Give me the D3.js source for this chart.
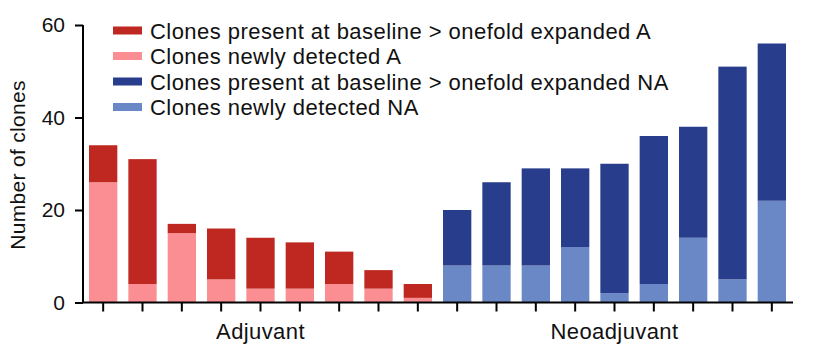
<!DOCTYPE html>
<html>
<head>
<meta charset="utf-8">
<script src="https://d3js.org/d3.v7.min.js"></script>
<style>
  body { margin: 0; background: #fff; }
  text { font-family: "Liberation Sans", Arial, Helvetica, sans-serif; fill: #111; }
</style>
</head>
<body>
<div id="chart"></div>
<script>
// values (per patient, stacked: newly detected at bottom)
var newlyA = [26, 4, 15, 5, 3, 3, 4, 3, 1];
var expandedA = [8, 27, 2, 11, 11, 10, 7, 4, 3];
var newlyNA = [8, 8, 8, 12, 2, 4, 14, 5, 22];
var expandedNA = [12, 18, 21, 17, 28, 32, 24, 46, 34];
var yTicks = [0, 20, 40, 60];
var groupLabels = ["Adjuvant", "Neoadjuvant"];
var legendLabels = [
  "Clones present at baseline > onefold expanded A",
  "Clones newly detected A",
  "Clones present at baseline > onefold expanded NA",
  "Clones newly detected NA"
];

var colors = {
  expA: "#bf2820",
  newA: "#fa8e93",
  expNA: "#283d8b",
  newNA: "#6a88c6"
};

var W = 816, H = 353;

// build rows
var rows = [];
newlyA.forEach(function(v, i) {
  rows.push({ id: "A" + i, group: 0, newly: v, expanded: expandedA[i] });
});
newlyNA.forEach(function(v, i) {
  rows.push({ id: "NA" + i, group: 1, newly: v, expanded: expandedNA[i] });
});

var svg = d3.select("#chart").append("svg")
  .attr("width", W)
  .attr("height", H);

var x = d3.scaleBand()
  .domain(rows.map(function(d) { return d.id; }))
  .range([83.5, 791.5])
  .paddingInner(0.28)
  .paddingOuter(0.14);

var y = d3.scaleLinear().domain([0, 60]).range([302.5, 25]);

// bars: newly (bottom) + expanded (top)
var bars = svg.append("g");
bars.selectAll(".newly")
  .data(rows)
  .enter()
  .append("rect")
  .attr("x", function(d) { return x(d.id); })
  .attr("width", x.bandwidth())
  .attr("y", function(d) { return y(d.newly); })
  .attr("height", function(d) { return y(0) - y(d.newly); })
  .attr("fill", function(d) { return d.group === 0 ? colors.newA : colors.newNA; });

bars.selectAll(".expanded")
  .data(rows)
  .enter()
  .append("rect")
  .attr("x", function(d) { return x(d.id); })
  .attr("width", x.bandwidth())
  .attr("y", function(d) { return y(d.newly + d.expanded); })
  .attr("height", function(d) { return y(d.newly) - y(d.newly + d.expanded); })
  .attr("fill", function(d) { return d.group === 0 ? colors.expA : colors.expNA; });

// Y axis
var yAxis = svg.append("g")
  .attr("transform", "translate(83,0)")
  .call(d3.axisLeft(y).tickValues(yTicks).tickSize(8).tickPadding(10));
yAxis.select(".domain").attr("stroke-width", 2).attr("d", "M0," + y(60) + "V" + y(0));
yAxis.selectAll(".tick line").attr("stroke-width", 2);
yAxis.selectAll("text")
  .style("font-family", "'Liberation Sans', Arial, sans-serif")
  .style("font-size", "21px")
  .attr("fill", "#111");

// X axis
var xAxis = svg.append("g")
  .attr("transform", "translate(0," + y(0) + ")")
  .call(d3.axisBottom(x).tickSize(9).tickFormat(""));
xAxis.select(".domain").attr("stroke-width", 2).attr("d", "M82,0H793");
xAxis.selectAll(".tick line").attr("stroke-width", 2);

// group labels
[0, 1].forEach(function(g) {
  var ids = rows.filter(function(d) { return d.group === g; }).map(function(d) { return d.id; });
  var cx = (x(ids[0]) + x(ids[ids.length - 1]) + x.bandwidth()) / 2;
  svg.append("text")
    .attr("x", cx)
    .attr("y", 339)
    .attr("text-anchor", "middle")
    .style("font-size", "22px")
    .style("letter-spacing", "0.4px")
    .text(groupLabels[g]);
});

// y label
svg.append("text")
  .attr("transform", "translate(25," + 165 + ") rotate(-90)")
  .attr("text-anchor", "middle")
  .style("font-size", "21px")
  .style("letter-spacing", "0.3px")
  .text("Number of clones");

// legend
var legColors = [colors.expA, colors.newA, colors.expNA, colors.newNA];
var legend = svg.selectAll(".leg")
  .data(legendLabels)
  .enter()
  .append("g")
  .attr("transform", function(d, i) { return "translate(113," + (30.5 + i * 25.5) + ")"; });

legend.append("rect")
  .attr("x", 0)
  .attr("y", -4)
  .attr("width", 29)
  .attr("height", 8)
  .attr("fill", function(d, i) { return legColors[i]; });

legend.append("text")
  .attr("x", 37)
  .attr("y", 8)
  .style("font-size", "22px")
  .style("letter-spacing", "0.45px")
  .text(function(d) { return d; });
</script>
</body>
</html>
